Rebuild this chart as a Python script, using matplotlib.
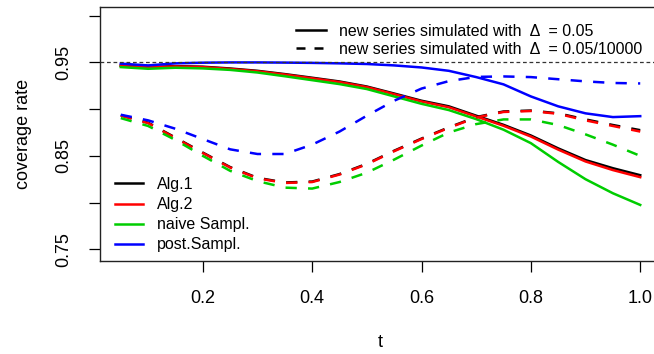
import numpy as np
import matplotlib
matplotlib.use('Agg')
from matplotlib import pyplot as plt
from matplotlib.lines import Line2D

plt.rcParams['font.family'] = ['Liberation Sans', 'DejaVu Sans']

# time grid
t = np.array([0.05, 0.10, 0.15, 0.20, 0.25, 0.30, 0.35, 0.40, 0.45, 0.50,
              0.55, 0.60, 0.65, 0.70, 0.75, 0.80, 0.85, 0.90, 0.95, 1.00])

# coverage rates, Delta = 0.05 (solid)
alg1_a = [0.9466, 0.9450, 0.9460, 0.9454, 0.9435, 0.9410, 0.9375, 0.9336, 0.9296, 0.9242,
          0.9167, 0.9090, 0.9030, 0.8930, 0.8832, 0.8718, 0.8580, 0.8455, 0.8368, 0.8293]
alg2_a = [0.9463, 0.9447, 0.9457, 0.9450, 0.9430, 0.9405, 0.9370, 0.9330, 0.9290, 0.9236,
          0.9160, 0.9082, 0.9020, 0.8921, 0.8822, 0.8707, 0.8567, 0.8440, 0.8348, 0.8272]
naive_a = [0.9450, 0.9432, 0.9443, 0.9436, 0.9420, 0.9392, 0.9352, 0.9310, 0.9268, 0.9215,
           0.9136, 0.9057, 0.8990, 0.8893, 0.8780, 0.8636, 0.8435, 0.8250, 0.8100, 0.7975]
post_a = [0.9487, 0.9468, 0.9490, 0.9497, 0.9500, 0.9500, 0.9498, 0.9495, 0.9490, 0.9483,
          0.9468, 0.9446, 0.9410, 0.9343, 0.9265, 0.9136, 0.9030, 0.8955, 0.8915, 0.8925]

# coverage rates, Delta = 0.05/10000 (dashed)
alg1_b = [0.8935, 0.8855, 0.8695, 0.8535, 0.8380, 0.8265, 0.8215, 0.8225, 0.8305, 0.8415,
          0.8555, 0.8685, 0.8805, 0.8915, 0.8975, 0.8985, 0.8955, 0.8890, 0.8830, 0.8775]
alg2_b = [0.8930, 0.8850, 0.8690, 0.8530, 0.8375, 0.8260, 0.8210, 0.8220, 0.8300, 0.8410,
          0.8550, 0.8680, 0.8800, 0.8910, 0.8970, 0.8980, 0.8950, 0.8880, 0.8820, 0.8760]
naive_b = [0.8904, 0.8820, 0.8670, 0.8500, 0.8340, 0.8230, 0.8160, 0.8150, 0.8220, 0.8320,
           0.8460, 0.8610, 0.8750, 0.8840, 0.8890, 0.8890, 0.8830, 0.8730, 0.8620, 0.8500]
post_b = [0.8940, 0.8880, 0.8790, 0.8680, 0.8570, 0.8520, 0.8520, 0.8620, 0.8760, 0.8930,
          0.9090, 0.9220, 0.9300, 0.9345, 0.9350, 0.9343, 0.9320, 0.9297, 0.9280, 0.9275]

labels = ['Alg.1', 'Alg.2', 'naive Sampl.', 'post.Sampl.']
colors = ['black', '#FF0000', '#00CD00', '#0000FF']
nominal = 0.95

fig = plt.figure(figsize=(6.54, 3.54), dpi=100)
W, H = 654, 354
ax = fig.add_axes([100 / W, (H - 261) / H, 561 / W, 254 / H])

dash = (4.5, 4.5)
for ys, c in zip([alg1_a, alg2_a, naive_a, post_a], colors):
    ax.plot(t, ys, color=c, lw=1.8, solid_joinstyle='round')
for ys, c in zip([alg1_b, alg2_b, naive_b, post_b], colors):
    ax.plot(t, ys, color=c, lw=1.8, dashes=dash)

ax.axhline(nominal, color='#333333', lw=0.9, dashes=(3, 2.2))

ax.set_xlim(0.012, 1.038)
ax.set_ylim(0.7375, 1.0093)
ax.set_xticks([0.2, 0.4, 0.6, 0.8, 1.0])
ax.set_xticklabels(['0.2', '0.4', '0.6', '0.8', '1.0'])
ax.set_yticks([0.75, 0.80, 0.85, 0.90, 0.95, 1.00])
ax.set_yticklabels(['0.75', '', '0.85', '', '0.95', ''], rotation=90, va='center')
ax.tick_params(direction='out', length=8, width=0.9, labelsize=13, pad=13)
ax.tick_params(axis='y', pad=12)
for s in ax.spines.values():
    s.set_linewidth(1.0)
    s.set_color('#222222')

ax.set_xlabel('t', fontsize=13, labelpad=19)
ax.set_ylabel('coverage rate', fontsize=13, labelpad=17)

# legend of methods, bottom left
h1 = [Line2D([], [], color=c, lw=1.8) for c in colors]
leg1 = fig.legend(h1, labels, loc='upper left', bbox_to_anchor=(115 / W, 1 - 177 / H),
                  frameon=False, fontsize=11.5, handlelength=1.75, handletextpad=0.9,
                  labelspacing=0.32, borderpad=0, borderaxespad=0)

# legend of line types, top right
h2 = [Line2D([], [], color='black', lw=1.8),
      Line2D([], [], color='black', lw=1.8, dashes=(3.6, 3.6))]
lab2 = ['new series simulated with  \u0394  = 0.05',
        'new series simulated with  \u0394  = 0.05/10000']
leg2 = fig.legend(h2, lab2, loc='upper left', bbox_to_anchor=(296 / W, 1 - 24 / H),
                  frameon=False, fontsize=11.5, handlelength=1.85, handletextpad=0.85,
                  labelspacing=0.18, borderpad=0, borderaxespad=0)

fig.savefig('out.png', dpi=100)
